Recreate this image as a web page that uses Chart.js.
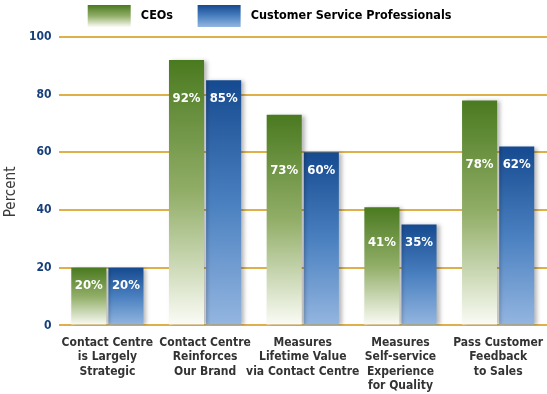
<!DOCTYPE html>
<html>
<head>
<meta charset="utf-8">
<script src="https://cdn.jsdelivr.net/npm/chart.js@4"></script>
<style>
  html, body { margin: 0; padding: 0; background: #fff; }
  #wrap { width: 547px; height: 394px; }
</style>
</head>
<body>
<div id="wrap"><canvas id="chart" width="547" height="394"></canvas></div>
<script>
const categories = [
  ['Contact Centre', 'is Largely', 'Strategic'],
  ['Contact Centre', 'Reinforces', 'Our Brand'],
  ['Measures', 'Lifetime Value', 'via Contact Centre'],
  ['Measures', 'Self-service', 'Experience', 'for Quality'],
  ['Pass Customer', 'Feedback', 'to Sales']
];
const ceos = [20, 92, 73, 41, 78];
const csp = [20, 85, 60, 35, 62];
const seriesNames = ['CEOs', 'Customer Service Professionals'];

const FONT = '"DejaVu Sans Condensed", "DejaVu Sans", sans-serif';
const GREEN = ['#4a7a20', '#92ae68', '#fbfcf6'];
const BLUE = ['#164a90', '#4a80c0', '#94b6e0'];

function barGradient(ctx, stops, top, bottom) {
  const g = ctx.createLinearGradient(0, top, 0, bottom);
  g.addColorStop(0, stops[0]);
  g.addColorStop(0.5, stops[1]);
  g.addColorStop(1, stops[2]);
  return g;
}

function barFill(stops) {
  return (c) => {
    const chart = c.chart;
    const y = chart.scales.y;
    if (!chart.chartArea || !y || c.parsed == null) return stops[0];
    const top = y.getPixelForValue(c.parsed.y);
    const bottom = y.getPixelForValue(0);
    return barGradient(chart.ctx, stops, top, bottom);
  };
}

// soft drop shadow on the right of the bars
const shadow = {
  id: 'shadow',
  beforeDatasetsDraw(chart) {
    const ctx = chart.ctx;
    ctx.save();
    ctx.shadowColor = 'rgba(0,0,0,0.28)';
    ctx.shadowBlur = 4;
    ctx.shadowOffsetX = 3;
    ctx.shadowOffsetY = 1;
  },
  afterDatasetsDraw(chart) {
    chart.ctx.restore();
  }
};

// white % labels, one row per group just under the lower bar top
const valueLabels = {
  id: 'valueLabels',
  afterDatasetsDraw(chart) {
    const ctx = chart.ctx;
    const m0 = chart.getDatasetMeta(0).data;
    const m1 = chart.getDatasetMeta(1).data;
    ctx.save();
    ctx.font = 'bold 13px ' + FONT;
    ctx.fillStyle = '#fff';
    ctx.textAlign = 'center';
    ctx.textBaseline = 'middle';
    categories.forEach((_, i) => {
      const ly = Math.max(m0[i].y, m1[i].y) + 18;
      ctx.fillText(ceos[i] + '%', m0[i].x, ly);
      ctx.fillText(csp[i] + '%', m1[i].x, ly);
    });
    ctx.restore();
  }
};

new Chart(document.getElementById('chart'), {
  type: 'bar',
  data: {
    labels: categories,
    datasets: [
      { label: seriesNames[0], data: ceos, backgroundColor: barFill(GREEN) },
      { label: seriesNames[1], data: csp, backgroundColor: barFill(BLUE) }
    ]
  },
  options: {
    responsive: false,
    animation: false,
    layout: { padding: { top: 0, left: 0, right: 0, bottom: -9 } },
    datasets: { bar: { barPercentage: 0.945, categoryPercentage: 0.76 } },
    plugins: {
      tooltip: { enabled: false },
      legend: {
        position: 'top',
        labels: {
          boxWidth: 43,
          boxHeight: 22,
          padding: 5,
          color: '#3a3a3a',
          font: { family: FONT, size: 12.5, weight: 'bold' },
          generateLabels(chart) {
            const ctx = chart.ctx;
            // trailing spaces widen the items to match the original spacing
            const names = [' ' + seriesNames[0] + '     ', ' ' + seriesNames[1] + '  '];
            return names.map((n, i) => ({
              text: n,
              fillStyle: barGradient(ctx, i ? BLUE : GREEN, 5, 27),
              strokeStyle: 'rgba(0,0,0,0)',
              lineWidth: 0,
              datasetIndex: i
            }));
          }
        }
      }
    },
    scales: {
      x: {
        grid: { display: false, drawTicks: false },
        border: { display: false },
        ticks: {
          color: '#333',
          font: { family: FONT, size: 12, weight: 'bold', lineHeight: 1.2 },
          padding: 10,
          maxRotation: 0,
          autoSkip: false
        },
        afterFit(scale) { scale.paddingRight = 0; }
      },
      y: {
        min: 0,
        max: 100,
        ticks: {
          stepSize: 20,
          color: '#163f7c',
          padding: 7,
          font: { family: FONT, size: 12, weight: 'bold' }
        },
        grid: { color: '#ddb04c', lineWidth: 2, drawTicks: false },
        border: { display: false },
        title: {
          display: true,
          text: 'Percent     ',
          color: '#3a3a3a',
          padding: { top: 2, bottom: 2 },
          font: { family: FONT, size: 15 }
        }
      }
    }
  },
  plugins: [shadow, valueLabels]
});
</script>
</body>
</html>
